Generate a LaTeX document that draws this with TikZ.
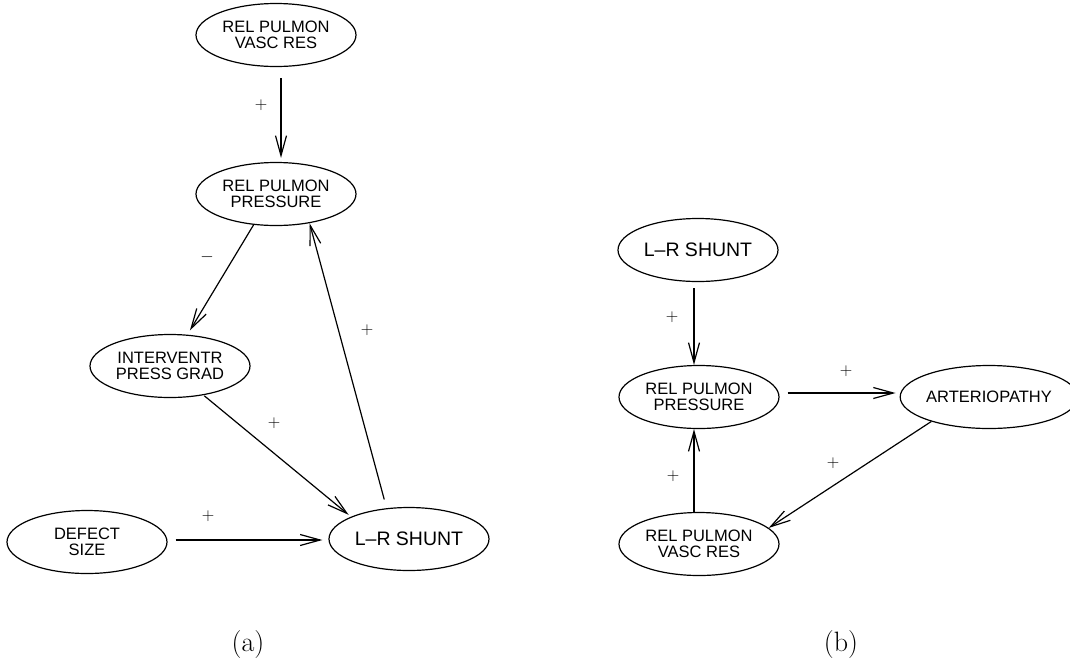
\documentclass[tikz,border=0pt]{standalone}
\usepackage{fontspec}
\setsansfont{Liberation Sans}
\usetikzlibrary{arrows.meta,shapes.geometric}
\begin{document}
\begin{tikzpicture}[x=1pt,y=-1pt,
  ell/.style={draw, ellipse, line width=1.2pt, minimum width=160pt, minimum height=63pt,
    inner sep=0pt, align=center, font=\sffamily\fontsize{16.5}{16}\selectfont},
  big/.style={font=\sffamily\fontsize{19.5}{20}\selectfont},
  conn/.style={line width=1.2pt, -{Straight Barb[length=20pt,width=11pt]}},
  sign/.style={inner sep=0pt, font=\fontsize{17}{17}\selectfont},
  captext/.style={inner sep=0pt, font=\fontsize{28}{32}\selectfont}]
\useasboundingbox (0,0) rectangle (1070,662);
% (a)
\node[ell] (A1) at (276,35) {REL PULMON\\VASC RES};
\node[ell] (A2) at (276,194) {REL PULMON\\PRESSURE};
\node[ell] (A3) at (170,366) {INTERVENTR\\PRESS GRAD};
\node[ell] (A4) at (87,542) {DEFECT\\SIZE};
\node[ell,big] (A5) at (409,539) {L–R SHUNT};
% (b)
\node[ell,big] (B1) at (698,250) {L–R SHUNT};
\node[ell] (B2) at (699,397) {REL PULMON\\PRESSURE};
\node[ell,minimum width=157pt] (B3) at (989,397) {ARTERIOPATHY};
\node[ell] (B4) at (699,544) {REL PULMON\\VASC RES};
% connectors (a)
\draw[conn, shorten <=11pt, shorten >=4pt] ([xshift=5pt]A1.south) -- ([xshift=5pt]A2.north);
\draw[conn, shorten >=5pt] (A2.234) -- (A3.61);
\draw[conn, shorten <=1pt, shorten >=3pt] (A3.-41) -- (A5.159);
\draw[conn, shorten <=9pt] (A5.126) -- (A2.-41);
\draw[conn, shorten <=8pt, shorten >=6pt] ([yshift=2pt]A4.east) -- ([yshift=-1pt]A5.west);
% connectors (b)
\draw[conn, shorten <=6pt] ([xshift=-4pt]B1.south) -- ([xshift=-5pt]B2.north);
\draw[conn] ([xshift=-5pt]B4.north) -- ([xshift=-5pt]B2.south);
\draw[conn, shorten <=8pt, shorten >=4pt] ([yshift=4pt]B2.east) -- ([yshift=4pt]B3.west);
\draw[conn] (B3.203) -- (B4.13);
% signs
\node[sign] (s1) at (261,105) {$+$};
\node[sign] (s2) at (207,257) {$-$};
\node[sign] (s3) at (367,330) {$+$};
\node[sign] (s4) at (274,423) {$+$};
\node[sign] (s5) at (208,516) {$+$};
\node[sign] (s6) at (672,317) {$+$};
\node[sign] (s7) at (846,371) {$+$};
\node[sign] (s8) at (673,476) {$+$};
\node[sign] (s9) at (833,463) {$+$};
% captions
\node[captext] (capa) at (248,645) {(a)};
\node[captext] (capb) at (841,645) {(b)};
\end{tikzpicture}
\end{document}
